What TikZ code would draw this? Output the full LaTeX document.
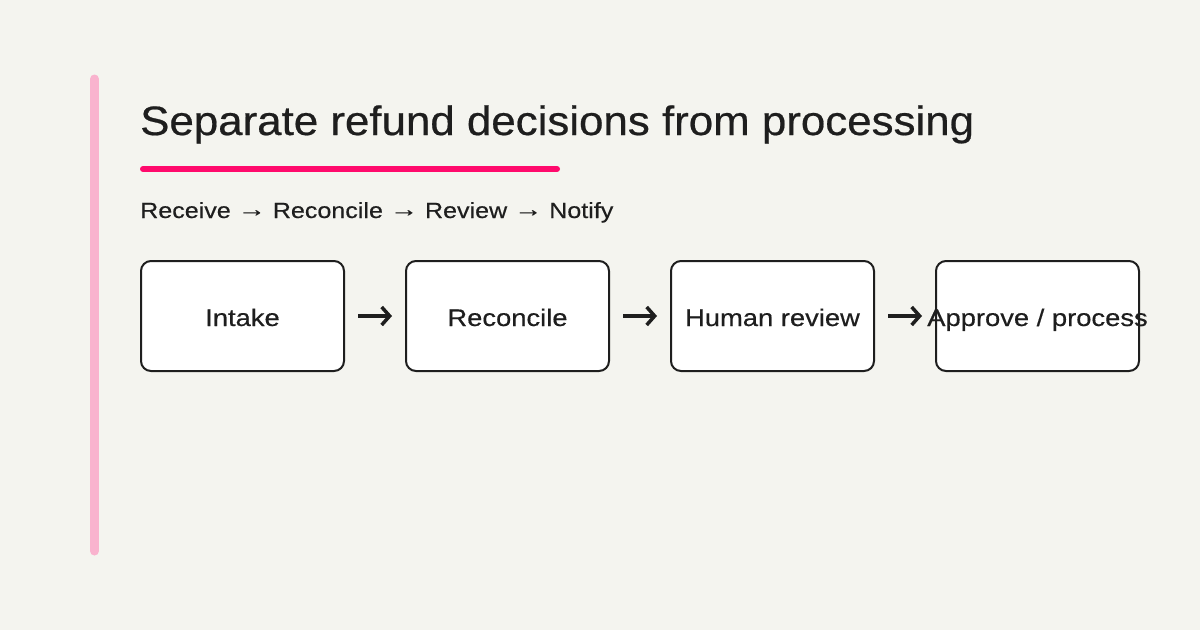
\documentclass[tikz,border=0pt]{standalone}
\usepackage{fontspec}
\setmainfont{Liberation Sans}
\newfontfamily\headfont[FakeStretch=1.07,FakeBold=0.5]{Liberation Sans}
\newfontfamily\bodyfont[FakeStretch=1.14,FakeBold=0.4]{Liberation Sans}
\usetikzlibrary{positioning,arrows.meta}
\definecolor{paper}{HTML}{F4F4EF}
\definecolor{ink}{HTML}{1E1E1E}
\definecolor{rose}{HTML}{F9B3CE}
\definecolor{accent}{HTML}{FF0A6C}
\newcommand{\thento}{\raisebox{1.5pt}{\scalebox{1.12}[1]{→}}}
\tikzset{
  stage/.style={draw=ink, line width=2pt, fill=white, rounded corners=10pt,
    minimum width=203pt, minimum height=110pt, inner sep=0pt,
    text height=20pt, text depth=0pt,
    text=ink, font=\bodyfont\fontsize{24}{28}\selectfont},
  flow/.style={draw=ink, line width=3.5pt, shorten <=13pt, shorten >=13pt,
    -{Straight Barb[length=8pt,width=18pt,line width=3.5pt]}}
}
\begin{document}
\begin{tikzpicture}[x=1pt,y=-1pt]
  \fill[paper] (0,0) rectangle (1200,630);
  \useasboundingbox (0,0) rectangle (1200,630);
  % side bar and title
  \draw[rose, line width=9pt, line cap=round] (94.5,79) -- (94.5,551);
  \node[anchor=base west, inner sep=0pt, text=ink,
    font=\headfont\fontsize{41}{48}\selectfont] (title) at (140,135)
    {Separate refund decisions from processing};
  \draw[accent, line width=6pt, line cap=round] (143,169) -- (557,169);
  \node[anchor=base west, inner sep=0pt, text=ink,
    font=\bodyfont\fontsize{22}{26}\selectfont] (steps) at (140,218)
    {Receive \thento{} Reconcile \thento{} Review \thento{} Notify};
  % stages
  \node[stage] (intake) at (242.5,316) {Intake};
  \node[stage, right=60pt of intake] (recon) {Reconcile};
  \node[stage, right=60pt of recon] (review) {Human review};
  \node[stage, right=60pt of review] (approve) {\makebox[0pt]{Approve / process}};
  \draw[flow] (intake) -- (recon);
  \draw[flow] (recon) -- (review);
  \draw[flow] (review) -- (approve);
\end{tikzpicture}
\end{document}
